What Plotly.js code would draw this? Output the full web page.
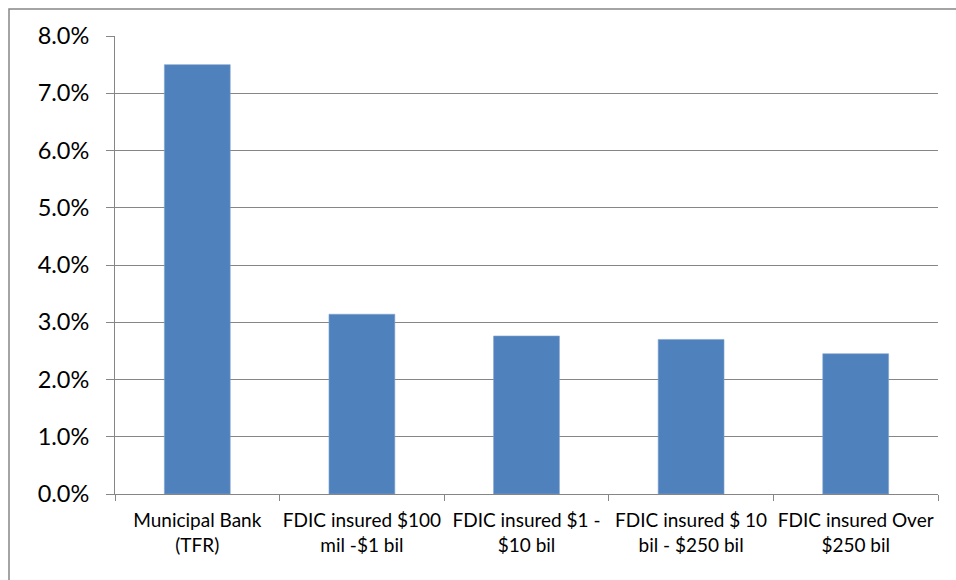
<!DOCTYPE html>
<html>
<head>
<meta charset="utf-8">
<script src="https://cdn.plot.ly/plotly-3.0.1.min.js"></script>
<style>html,body{margin:0;padding:0;background:#fff;}#chart{width:956px;height:580px;}</style>
</head>
<body>
<div id="chart"></div>
<script>
const categories = [
  "Municipal Bank<br>(TFR)",
  "FDIC insured $100<br>mil -$1 bil",
  "FDIC insured $1 -<br>$10 bil",
  "FDIC insured $ 10<br>bil - $250 bil",
  "FDIC insured Over<br>$250 bil"
];
const values = [0.075, 0.0314, 0.0276, 0.0270, 0.0245];
const yTickValues = [0, 0.01, 0.02, 0.03, 0.04, 0.05, 0.06, 0.07, 0.08];

const L = 115, R = 938, T = 36, B = 494;
const px = x => (x - L) / (R - L);
const py = y => (B - y) / (B - T);

const trace = {
  type: "bar",
  x: categories,
  y: values,
  marker: {color: "#4F81BD", line: {color: "#7FA3CF", width: 0.6}},
  hoverinfo: "none"
};

const layout = {
  width: 956, height: 580,
  margin: {l: L, r: 956 - R, t: T, b: 580 - B, pad: 0},
  paper_bgcolor: "#fff", plot_bgcolor: "#fff",
  showlegend: false,
  bargap: 0.6,
  font: {family: "Lato, 'Open Sans', sans-serif", color: "#000"},
  xaxis: {
    type: "category",
    tickson: "boundaries",
    tickangle: 0,
    ticks: "outside", ticklen: 6, tickcolor: "#868686", tickwidth: 1,
    showline: true, linecolor: "#868686", linewidth: 1,
    showgrid: false, zeroline: false,
    tickfont: {size: 19, family: "Lato, 'Open Sans', sans-serif", color: "#000"},
    ticklabelstandoff: 9,
    fixedrange: true
  },
  yaxis: {
    range: [0, 0.08],
    tickvals: yTickValues,
    tickformat: ".1%",
    ticks: "outside", ticklen: 8, tickcolor: "#868686", tickwidth: 1,
    showline: true, linecolor: "#868686", linewidth: 1,
    showgrid: true, gridcolor: "#868686", gridwidth: 1,
    zeroline: false,
    tickfont: {size: 23.5, family: "Lato, 'Open Sans', sans-serif", color: "#000"},
    ticklabelstandoff: 12,
    fixedrange: true
  },
  shapes: [{
    type: "rect", xref: "paper", yref: "paper",
    x0: px(9), x1: px(970), y0: py(600), y1: py(9),
    line: {color: "#868686", width: 1.5}, fillcolor: "rgba(0,0,0,0)", layer: "below"
  }]
};

Plotly.newPlot("chart", [trace], layout, {displayModeBar: false, staticPlot: true});
</script>
</body>
</html>
